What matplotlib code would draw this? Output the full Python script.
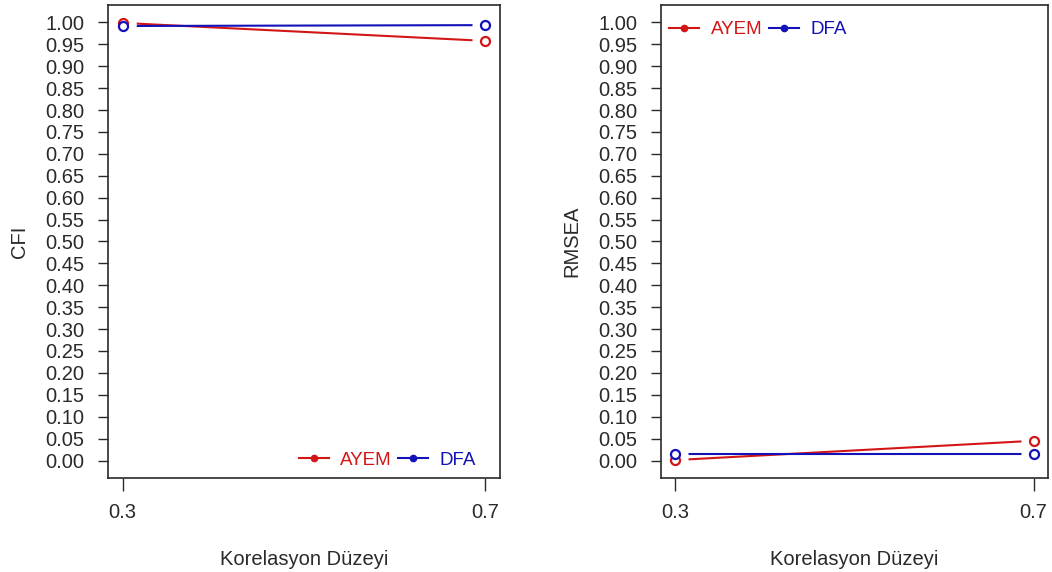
import matplotlib
matplotlib.use("Agg")
import matplotlib.pyplot as plt
import numpy as np

plt.rcParams['font.family'] = ['Liberation Sans', 'DejaVu Sans']

# correlation levels and fit indices per method
levels = [0.3, 0.7]
level_labels = ["0.3", "0.7"]
methods = ["AYEM", "DFA"]
cfi_ayem = [0.999, 0.958]
cfi_dfa = [0.992, 0.994]
rmsea_ayem = [0.001, 0.045]
rmsea_dfa = [0.015, 0.015]
yticks = np.round(np.arange(0, 1.0001, 0.05), 2)

red = "#d41515"
blue = "#1212b8"
ink = "#2a2a2a"
fs = 14.5

fig = plt.figure(figsize=(10.52, 5.72), dpi=100)
ax1 = fig.add_axes([0.1027, 0.1643, 0.3726, 0.827])
ax2 = fig.add_axes([0.6283, 0.1643, 0.3679, 0.827])


def draw(ax, series, ylabel, legend_loc, legend_anchor):
    handles = []
    for vals, col in zip(series, [red, blue]):
        ax.plot(levels, vals, color=col, lw=1.5, zorder=2)
    # open gaps along the lines around each point
    for vals in series:
        ax.plot(levels, vals, ls="none", marker="_", ms=19, mew=5,
                color="white", zorder=3)
    for vals, col in zip(series, [red, blue]):
        ax.plot(levels, vals, ls="none", marker="o", ms=6.5, mew=1.6,
                mfc="white", mec=col, zorder=4)
    for col in [red, blue]:
        h, = ax.plot([], [], color=col, lw=1.5, marker="o", ms=4.5)
        handles.append(h)
    ax.legend(handles, methods, ncol=2, frameon=False, loc=legend_loc,
              bbox_to_anchor=legend_anchor, fontsize=13.5,
              handlelength=1.6, handletextpad=0.6, columnspacing=0.35,
              borderaxespad=0.3, labelcolor=[red, blue])
    ax.set_xlim(0.3 - 0.016, 0.7 + 0.016)
    ax.set_ylim(-0.04, 1.04)
    ax.set_xticks(levels)
    ax.set_xticklabels(level_labels)
    ax.set_yticks(yticks)
    ax.set_yticklabels([f"{v:.2f}" for v in yticks])
    ax.tick_params(axis="y", length=7, width=1, pad=10, labelsize=fs,
                   labelcolor=ink, color=ink)
    ax.tick_params(axis="x", length=9, width=1, pad=9, labelsize=fs,
                   labelcolor=ink, color=ink)
    for s in ax.spines.values():
        s.set_linewidth(1.2)
        s.set_color(ink)
        s.set_zorder(6)
    ax.set_ylabel(ylabel, fontsize=fs, labelpad=12, color=ink)
    ax.set_xlabel("Korelasyon Düzeyi", fontsize=fs, labelpad=20, color=ink)


draw(ax1, [cfi_ayem, cfi_dfa], "CFI", "lower right", (0.972, -0.008))
draw(ax2, [rmsea_ayem, rmsea_dfa], "RMSEA", "upper left", (-0.012, 0.994))

fig.savefig("out.png", dpi=100)
